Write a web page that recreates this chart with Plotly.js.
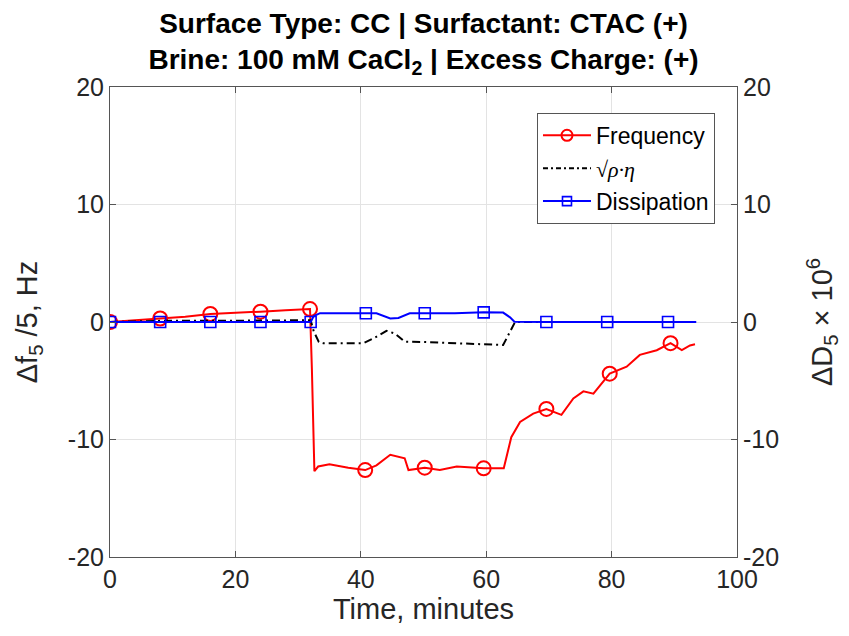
<!DOCTYPE html>
<html>
<head>
<meta charset="utf-8">
<script src="https://cdn.plot.ly/plotly-3.0.1.min.js"></script>
<style>html,body{margin:0;padding:0;background:#fff;}#chart{width:849px;height:636px;}</style>
</head>
<body>
<div id="chart"></div>
<script>
// Frequency (Δf5/5, Hz)
const freqT = [0, 4, 8, 12, 16, 20, 24, 28, 31.9, 32.2, 32.6, 33.2, 35, 38, 40.7, 42.5, 44.7, 47, 47.6, 50.2, 52.6, 55.3, 59.6, 62.8, 64, 65.4, 67.5, 69.6, 72, 73.9, 75.5, 77.1, 79.7, 82.4, 84.5, 87.2, 89.4, 91.2, 92.5, 93.3];
const freqV = [0, 0.15, 0.3, 0.45, 0.68, 0.75, 0.88, 1.0, 1.1, -4, -12.7, -12.3, -12.1, -12.4, -12.6, -12.2, -11.3, -11.6, -12.6, -12.4, -12.6, -12.3, -12.45, -12.45, -9.8, -8.5, -7.8, -7.4, -7.9, -6.5, -5.9, -6.1, -4.4, -3.8, -2.8, -2.4, -1.8, -2.4, -2.0, -1.9];
const freqMarkIdx = [0, 2, 4, 6, 8, 14, 19, 22, 27, 32, 36];

// sqrt(rho*eta)
const rheoT = [0, 8, 16, 24, 32, 32.5, 33.3, 34, 40.4, 42, 44.1, 45.5, 47, 50, 55, 60, 62.7, 64.6, 93.5];
const rheoV = [0, 0.1, 0.1, 0.15, 0.15, -0.8, -1.7, -1.8, -1.8, -1.4, -0.75, -1.0, -1.68, -1.7, -1.8, -1.9, -1.96, 0, 0];

// Dissipation (ΔD5 × 10^6)
const dissT = [0, 8, 16, 24, 32, 32.5, 33.5, 40.8, 42.5, 44.7, 46, 47.8, 50.2, 55, 59.6, 62.7, 63.8, 64.5, 69.6, 79.3, 89, 93.5];
const dissV = [0, 0, 0, 0, 0, 0.5, 0.75, 0.74, 0.74, 0.3, 0.35, 0.74, 0.74, 0.75, 0.82, 0.8, 0.4, 0.02, 0, 0, 0, 0];
const dissMarkIdx = [0, 1, 2, 3, 4, 7, 12, 14, 18, 19, 20];

const xTicks = [0, 20, 40, 60, 80, 100];
const yTicks = [-20, -10, 0, 10, 20];

const names = ['Frequency',
  '<span style="font-family:\'Liberation Serif\',serif;font-size:22px">√<i>ρ·η</i></span>',
  'Dissipation'];
const RED = '#ff0000', BLUE = '#0000ff', BLACK = '#000000';

const pick = (arr, idx) => idx.map(i => arr[i]);

const traces = [
  {x: freqT, y: freqV, mode: 'lines', line: {color: RED, width: 2}, showlegend: false, yaxis: 'y'},
  {x: pick(freqT, freqMarkIdx), y: pick(freqV, freqMarkIdx), mode: 'markers', showlegend: false, yaxis: 'y',
   marker: {symbol: 'circle-open', size: 14, color: RED, line: {width: 2, color: RED}}},
  {x: rheoT, y: rheoV, mode: 'lines', line: {color: BLACK, width: 2, dash: '8px,4px,2px,4px'}, showlegend: false, yaxis: 'y'},
  {x: dissT, y: dissV, mode: 'lines', line: {color: BLUE, width: 2}, showlegend: false, yaxis: 'y2'},
  {x: pick(dissT, dissMarkIdx), y: pick(dissV, dissMarkIdx), mode: 'markers', showlegend: false, yaxis: 'y2',
   marker: {symbol: 'square-open', size: 11, color: BLUE, line: {width: 1.6, color: BLUE}}},
  // legend entries
  {x: [null], y: [null], name: names[0], mode: 'lines+markers', line: {color: RED, width: 2},
   marker: {symbol: 'circle-open', size: 11, color: RED, line: {width: 2, color: RED}}},
  {x: [null], y: [null], name: names[1], mode: 'lines', line: {color: BLACK, width: 2, dash: '5px,3px,2px,3px'}},
  {x: [null], y: [null], name: names[2], mode: 'lines+markers', line: {color: BLUE, width: 2}, yaxis: 'y2',
   marker: {symbol: 'square-open', size: 9, color: BLUE, line: {width: 1.6, color: BLUE}}}
];

const axisCol = '#262626';
const FONT = 'Liberation Sans, Arial, Helvetica, sans-serif';
const tickFont = {family: FONT, size: 25, color: axisCol};

const layout = {
  width: 849, height: 636,
  margin: {l: 110, r: 112, t: 87, b: 79},
  paper_bgcolor: '#fff', plot_bgcolor: '#fff',
  font: {family: FONT, color: axisCol},
  title: {
    text: '<b>Surface Type: CC | Surfactant: CTAC (+)</b><br><b>Brine: 100 mM CaCl<sub>2</sub> | Excess Charge: (+)</b>',
    font: {family: FONT, size: 28, color: '#000'},
    x: 0.5, xanchor: 'center', xref: 'paper',
    y: 1, yref: 'paper', yanchor: 'bottom', pad: {b: 54}
  },
  xaxis: {
    range: [0, 100], tickvals: xTicks, ticktext: xTicks.map(String),
    showgrid: true, gridcolor: '#e3e3e3', zeroline: false,
    showline: true, linecolor: '#555', linewidth: 1, mirror: 'ticks',
    ticks: 'inside', ticklen: 6, tickcolor: '#555', tickfont: tickFont,
    title: {text: 'Time, minutes', font: {family: FONT, size: 29, color: axisCol}, standoff: 6}
  },
  yaxis: {
    range: [-20, 20], tickvals: yTicks, ticktext: yTicks.map(String),
    showgrid: true, gridcolor: '#e3e3e3', zeroline: false,
    showline: true, linecolor: '#555', linewidth: 1, mirror: false,
    ticks: 'inside', ticklen: 6, tickcolor: '#555', tickfont: tickFont,
    title: {text: 'Δf<sub>5</sub> /5, Hz', font: {family: FONT, size: 29, color: axisCol}, standoff: 21}
  },
  yaxis2: {
    range: [-20, 20], tickvals: yTicks, ticktext: yTicks.map(String),
    overlaying: 'y', side: 'right', showgrid: false, zeroline: false,
    showline: true, linecolor: '#555', linewidth: 1,
    ticks: 'inside', ticklen: 6, tickcolor: '#555', tickfont: tickFont,
    title: {text: 'ΔD<sub>5</sub> × 10<sup>6</sup>', font: {family: FONT, size: 29, color: axisCol}, standoff: 33}
  },
  legend: {
    x: 0.681, y: 0.945, xanchor: 'left', yanchor: 'top',
    bgcolor: '#fff', bordercolor: '#555', borderwidth: 1,
    font: {family: FONT, size: 23, color: '#000'}, tracegroupgap: 0,
    itemwidth: 48
  },
  showlegend: true
};

Plotly.newPlot('chart', traces, layout, {staticPlot: true, displayModeBar: false});
</script>
</body>
</html>
